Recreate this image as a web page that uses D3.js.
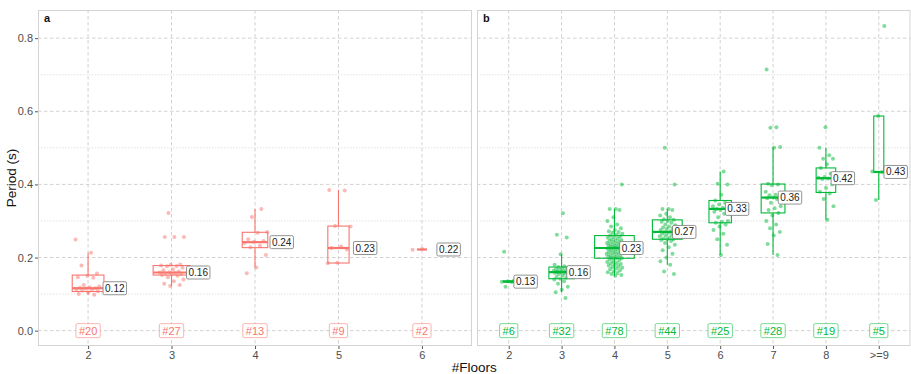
<!DOCTYPE html>
<html>
<head>
<meta charset="utf-8">
<script src="https://cdn.jsdelivr.net/npm/d3@7"></script>
<style>
  body { margin: 0; background: #fff; }
  svg { display: block; font-family: "Liberation Sans", Arial, sans-serif; }
</style>
</head>
<body>
<svg id="chart" width="911" height="374"></svg>
<script>
// ---- Panel a: buildings grouped by number of floors ----
const floorsA = ["2", "3", "4", "5", "6"];
const countsA = [20, 27, 13, 9, 2];
const q1A  = [0.107, 0.152, 0.227, 0.185, 0.222];
const medA = [0.116, 0.159, 0.242, 0.226, 0.222];
const q3A  = [0.152, 0.178, 0.269, 0.286, 0.222];
const loA  = [0.098, 0.122, 0.173, 0.184, 0.221];
const hiA  = [0.213, 0.181, 0.333, 0.385, 0.223];
const pointsA = [
  [0.249, 0.213, 0.178, 0.156, 0.150, 0.146, 0.145, 0.125, 0.121, 0.119,
   0.117, 0.116, 0.115, 0.113, 0.112, 0.110, 0.108, 0.105, 0.100, 0.098],
  [0.322, 0.256, 0.256, 0.256, 0.181, 0.180, 0.178, 0.177, 0.176, 0.172,
   0.168, 0.165, 0.162, 0.160, 0.159, 0.158, 0.156, 0.155, 0.154, 0.152,
   0.150, 0.146, 0.140, 0.135, 0.128, 0.125, 0.122],
  [0.333, 0.311, 0.270, 0.268, 0.250, 0.245, 0.243, 0.240, 0.232, 0.228,
   0.207, 0.173, 0.157],
  [0.385, 0.383, 0.286, 0.285, 0.230, 0.226, 0.222, 0.186, 0.184],
  [0.223, 0.221]
];

// ---- Panel b ----
const floorsB = ["2", "3", "4", "5", "6", "7", "8", ">=9"];
const countsB = [6, 32, 78, 44, 25, 28, 19, 5];
const q1B  = [0.133, 0.142, 0.198, 0.250, 0.295, 0.322, 0.378, 0.433];
const medB = [0.134, 0.160, 0.226, 0.270, 0.333, 0.364, 0.417, 0.434];
const q3B  = [0.136, 0.174, 0.260, 0.303, 0.356, 0.401, 0.445, 0.587];
const loB  = [0.133, 0.105, 0.150, 0.180, 0.207, 0.207, 0.303, 0.357];
const hiB  = [0.137, 0.209, 0.333, 0.333, 0.435, 0.502, 0.500, 0.587];
const pointsB = [
  [0.216, 0.137, 0.135, 0.134, 0.133, 0.120],
  [0.321, 0.262, 0.255, 0.209, 0.180, 0.176, 0.174, 0.172, 0.170, 0.168,
   0.166, 0.165, 0.164, 0.162, 0.161, 0.160, 0.160, 0.158, 0.156, 0.155,
   0.152, 0.150, 0.147, 0.145, 0.142, 0.140, 0.135, 0.128, 0.120, 0.112,
   0.105, 0.089],
  [0.400, 0.333, 0.333, 0.330, 0.310, 0.300, 0.290, 0.285, 0.280, 0.275,
   0.272, 0.270, 0.268, 0.265, 0.262, 0.260, 0.258, 0.256, 0.254, 0.252,
   0.250, 0.248, 0.246, 0.245, 0.243, 0.242, 0.240, 0.238, 0.236, 0.235,
   0.233, 0.232, 0.230, 0.229, 0.228, 0.227, 0.226, 0.226, 0.225, 0.224,
   0.222, 0.220, 0.218, 0.216, 0.215, 0.213, 0.212, 0.210, 0.208, 0.206,
   0.205, 0.203, 0.202, 0.200, 0.199, 0.198, 0.197, 0.195, 0.193, 0.190,
   0.188, 0.186, 0.184, 0.182, 0.180, 0.178, 0.176, 0.174, 0.172, 0.170,
   0.168, 0.165, 0.162, 0.160, 0.158, 0.155, 0.152, 0.150],
  [0.500, 0.400, 0.333, 0.333, 0.330, 0.320, 0.315, 0.310, 0.305, 0.303,
   0.300, 0.298, 0.295, 0.290, 0.288, 0.285, 0.282, 0.280, 0.278, 0.275,
   0.272, 0.270, 0.270, 0.268, 0.265, 0.262, 0.260, 0.258, 0.255, 0.252,
   0.250, 0.250, 0.248, 0.245, 0.240, 0.235, 0.228, 0.220, 0.210, 0.200,
   0.190, 0.180, 0.162, 0.155],
  [0.435, 0.402, 0.400, 0.372, 0.356, 0.350, 0.345, 0.340, 0.336, 0.333,
   0.333, 0.330, 0.325, 0.320, 0.310, 0.300, 0.298, 0.295, 0.290, 0.285,
   0.275, 0.265, 0.250, 0.235, 0.207],
  [0.714, 0.556, 0.555, 0.502, 0.500, 0.402, 0.400, 0.398, 0.380, 0.372,
   0.370, 0.366, 0.364, 0.362, 0.360, 0.350, 0.340, 0.335, 0.330, 0.322,
   0.315, 0.300, 0.290, 0.280, 0.270, 0.260, 0.237, 0.207],
  [0.556, 0.500, 0.480, 0.470, 0.470, 0.455, 0.445, 0.430, 0.420, 0.418,
   0.416, 0.415, 0.400, 0.390, 0.380, 0.375, 0.360, 0.340, 0.303],
  [0.833, 0.587, 0.435, 0.433, 0.357]
];

const yTicks = [0, 0.2, 0.4, 0.6, 0.8];
const yMinorTicks = [0.1, 0.3, 0.5, 0.7];
const panelTags = ["a", "b"];
const xTitle = "#Floors";
const yTitle = "Period (s)";

// ---- layout ----
const plotTop = 10, plotBottom = 346;
const panels = [
  { tag: panelTags[0], x0: 38, x1: 472, color: "#F8766D",
    cats: floorsA, n: countsA, q1: q1A, med: medA, q3: q3A, lo: loA, hi: hiA, pts: pointsA },
  { tag: panelTags[1], x0: 477, x1: 910.5, color: "#00BA38",
    cats: floorsB, n: countsB, q1: q1B, med: medB, q3: q3B, lo: loB, hi: hiB, pts: pointsB }
];
const maxN = d3.max(countsA.concat(countsB));

const svg = d3.select("#chart");
const y = d3.scaleLinear().domain([-0.042, 0.877]).range([plotBottom, plotTop]);
const fmt = d3.format(".2f");

// y axis (left panel only)
const yAxis = svg.append("g").attr("transform", `translate(${panels[0].x0},0)`)
  .call(d3.axisLeft(y).tickValues(yTicks).tickFormat(d3.format(".1f")).tickSize(3).tickPadding(2));
yAxis.select(".domain").remove();
yAxis.selectAll(".tick line").attr("stroke", "#555");
yAxis.selectAll(".tick text").attr("fill", "#4d4d4d").style("font-size", "11px")
  .style("font-family", "Liberation Sans, Arial, sans-serif");

panels.forEach((p, pi) => {
  const x = d3.scalePoint().domain(p.cats).range([p.x0, p.x1]).padding(0.6);
  const step = x.step();
  const g = svg.append("g");

  // grid
  g.selectAll(".ymin").data(yMinorTicks).join("line")
    .attr("x1", p.x0).attr("x2", p.x1)
    .attr("y1", d => y(d)).attr("y2", d => y(d))
    .attr("stroke", "#dcdcdc").attr("stroke-width", 0.8).attr("stroke-dasharray", "1.5,1.5");
  g.selectAll(".ymaj").data(yTicks).join("line")
    .attr("x1", p.x0).attr("x2", p.x1)
    .attr("y1", d => y(d)).attr("y2", d => y(d))
    .attr("stroke", "#d2d2d2").attr("stroke-width", 1).attr("stroke-dasharray", "3.5,2.5");
  g.selectAll(".xmaj").data(p.cats).join("line")
    .attr("x1", d => x(d)).attr("x2", d => x(d))
    .attr("y1", plotTop).attr("y2", plotBottom)
    .attr("stroke", "#d2d2d2").attr("stroke-width", 1).attr("stroke-dasharray", "3.5,2.5");

  // panel border
  g.append("rect").attr("x", p.x0 + 0.5).attr("y", plotTop + 0.5)
    .attr("width", p.x1 - p.x0 - 1).attr("height", plotBottom - plotTop - 1)
    .attr("fill", "none").attr("stroke", "#d4d4d4").attr("stroke-width", 1);

  // panel tag
  g.append("text").attr("x", p.x0 + 6).attr("y", plotTop + 12)
    .attr("font-weight", "bold").attr("font-size", 11).attr("fill", "#111").text(p.tag);

  // x axis
  const xa = svg.append("g").attr("transform", `translate(0,${plotBottom})`)
    .call(d3.axisBottom(x).tickSize(3).tickPadding(2));
  xa.select(".domain").remove();
  xa.selectAll(".tick line").attr("stroke", "#555");
  xa.selectAll(".tick text").attr("fill", "#4d4d4d").style("font-size", "11px")
    .style("font-family", "Liberation Sans, Arial, sans-serif");

  // boxplots
  p.cats.forEach((c, i) => {
    const cx = x(c);
    const bw = 0.75 * step * Math.sqrt(p.n[i] / maxN);
    const bg = g.append("g");
    bg.append("line").attr("x1", cx).attr("x2", cx)
      .attr("y1", y(p.q3[i])).attr("y2", y(p.hi[i]))
      .attr("stroke", p.color).attr("stroke-width", 1.1);
    bg.append("line").attr("x1", cx).attr("x2", cx)
      .attr("y1", y(p.q1[i])).attr("y2", y(p.lo[i]))
      .attr("stroke", p.color).attr("stroke-width", 1.1);
    bg.append("rect").attr("x", cx - bw / 2).attr("y", y(p.q3[i]))
      .attr("width", bw).attr("height", y(p.q1[i]) - y(p.q3[i]))
      .attr("fill", "none").attr("stroke", p.color).attr("stroke-width", 1.1);
    bg.append("line").attr("x1", cx - bw / 2).attr("x2", cx + bw / 2)
      .attr("y1", y(p.med[i])).attr("y2", y(p.med[i]))
      .attr("stroke", p.color).attr("stroke-width", 2.2);

    // jittered observations (deterministic spread around the category)
    const jw = 0.15 * step;
    g.append("g").selectAll("circle").data(p.pts[i]).join("circle")
      .attr("cx", (d, k) => cx + ((((k * 0.6180339 + i * 0.377 + pi * 0.21) % 1) - 0.5) * 2 * jw))
      .attr("cy", d => y(d))
      .attr("r", 2)
      .attr("fill", p.color).attr("fill-opacity", 0.5);
  });

  // median labels
  p.cats.forEach((c, i) => {
    const lx = x(c) + 0.32 * step;
    const ly = y(p.med[i]);
    const lg = g.append("g");
    const t = lg.append("text").attr("x", lx).attr("y", ly).attr("text-anchor", "middle")
      .attr("dominant-baseline", "central").attr("font-size", 10).attr("fill", "#222")
      .text(fmt(p.med[i]));
    const tw = t.node().getComputedTextLength();
    lg.insert("rect", "text").attr("x", lx - tw / 2 - 2).attr("y", ly - 6.5)
      .attr("width", tw + 4).attr("height", 13).attr("rx", 1.5)
      .attr("fill", "#fff").attr("stroke", "#777").attr("stroke-width", 0.8);
  });

  // sample count labels at y = 0
  p.cats.forEach((c, i) => {
    const lx = x(c);
    const ly = y(0);
    const lg = g.append("g");
    const t = lg.append("text").attr("x", lx).attr("y", ly).attr("text-anchor", "middle")
      .attr("dominant-baseline", "central").attr("font-size", 11).attr("fill", p.color)
      .text("#" + p.n[i]);
    const tw = t.node().getComputedTextLength();
    lg.insert("rect", "text").attr("x", lx - tw / 2 - 3).attr("y", ly - 7)
      .attr("width", tw + 6).attr("height", 14).attr("rx", 1.5)
      .attr("fill", "#fff").attr("stroke", p.color).attr("stroke-opacity", 0.6).attr("stroke-width", 0.9);
  });
});

// axis titles
svg.append("text").attr("x", (panels[0].x0 + panels[1].x1) / 2).attr("y", 372)
  .attr("text-anchor", "middle").attr("font-size", 13.5).attr("fill", "#111").text(xTitle);
svg.append("text").attr("transform", `translate(16,${(plotTop + plotBottom) / 2}) rotate(-90)`)
  .attr("text-anchor", "middle").attr("font-size", 13.5).attr("fill", "#111").text(yTitle);
</script>
</body>
</html>
